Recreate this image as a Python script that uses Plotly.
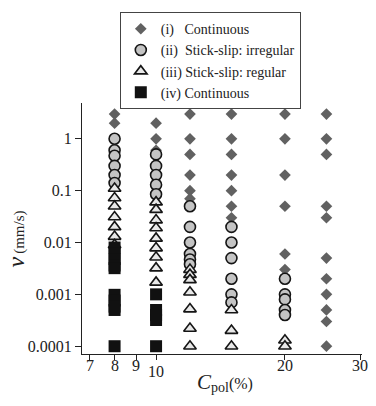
import math
import plotly.graph_objects as go

# ---- data ----
# (i) Continuous (gray diamonds)
cont_hi_c = [8, 8,
             10, 10, 10,
             12, 12, 12, 12, 12, 12,
             15, 15, 15, 15, 15, 15, 15,
             20, 20, 20, 20, 20, 20,
             25, 25, 25, 25, 25, 25, 25, 25, 25, 25, 25]
cont_hi_v = [3, 2,
             2, 1, 0.6,
             3, 1, 0.5, 0.2, 0.1, 0.07,
             3, 1, 0.5, 0.2, 0.1, 0.05, 0.03,
             3, 1, 0.2, 0.05, 0.006, 0.003,
             3, 1, 0.5, 0.05, 0.03, 0.005, 0.002, 0.001, 0.0005, 0.0003, 0.0001]

# (ii) Stick-slip: irregular (gray circles)
irr_c = [8, 8, 8, 8, 8, 8,
         10, 10, 10, 10, 10,
         12, 12, 12, 12, 12, 12,
         15, 15, 15, 15, 15, 15,
         20, 20, 20, 20, 20]
irr_v = [1, 0.6, 0.47, 0.3, 0.2, 0.14,
         0.5, 0.3, 0.2, 0.13, 0.085,
         0.05, 0.02, 0.01, 0.006, 0.0047, 0.0038,
         0.02, 0.01, 0.005, 0.002, 0.001, 0.0007,
         0.002, 0.001, 0.0008, 0.0005, 0.0004]

# (iii) Stick-slip: regular (open triangles)
reg_c = [8, 8, 8, 8, 8, 8, 8,
         10, 10, 10, 10, 10, 10, 10, 10, 10,
         12, 12, 12, 12, 12, 12, 12,
         15, 15, 15,
         20, 20]
reg_v = [0.11, 0.072, 0.05, 0.031, 0.02, 0.013, 0.009,
         0.06, 0.043, 0.027, 0.019, 0.012, 0.0078, 0.0052, 0.0032, 0.0017,
         0.003, 0.0024, 0.0019, 0.0011, 0.00052, 0.00022, 0.0001,
         0.0005, 0.0002, 0.0001,
         0.00013, 0.0001]

# (iv) Continuous (black squares)
cont_lo_c = [8, 8, 8, 8, 8, 8, 8, 8, 8, 8,
             10, 10, 10, 10, 10]
cont_lo_v = [0.008, 0.0061, 0.0048, 0.0036, 0.0032, 0.00098, 0.00076, 0.00058, 0.0005, 0.0001,
             0.001, 0.0005, 0.0004, 0.00032, 0.0001]

series_names = ["(i)\u00a0\u00a0 Continuous",
                "(ii)\u00a0 Stick-slip: irregular",
                "(iii) Stick-slip: regular",
                "(iv) Continuous"]

y_tickvals = [1, 0.1, 0.01, 0.001, 0.0001]
y_ticktext = ["1", "0.1", "0.01", "0.001", "0.0001"]
x_tickvals = [7, 8, 9, 10, 20, 30]
x_ticktext = ["7", "8", "9", "10", "20", "30"]
x_label_drop = [0, 0, 0, 1, 0, 0]

SERIF = "Liberation Serif, Times New Roman, serif"
INK = "#222222"

fig = go.Figure()
fig.add_trace(go.Scatter(x=cont_hi_c, y=cont_hi_v, mode="markers", name=series_names[0],
                         marker=dict(symbol="diamond", size=9, color="#616161",
                                     line=dict(width=0))))
fig.add_trace(go.Scatter(x=irr_c, y=irr_v, mode="markers", name=series_names[1],
                         marker=dict(symbol="circle", size=11, color="#c4c4c4",
                                     line=dict(width=1.6, color="#151515"))))
fig.add_trace(go.Scatter(x=reg_c, y=reg_v, mode="markers", name=series_names[2],
                         marker=dict(symbol="triangle-up", size=11, color="#e8e8e8",
                                     line=dict(width=1.6, color="#151515"))))
fig.add_trace(go.Scatter(x=cont_lo_c, y=cont_lo_v, mode="markers", name=series_names[3],
                         marker=dict(symbol="square", size=12, color="#111111",
                                     line=dict(width=0))))

annotations = []
for v, t, d in zip(x_tickvals, x_ticktext, x_label_drop):
    # annotation x on a log axis is given in log10 units
    annotations.append(dict(x=math.log10(v), xref="x", y=-0.047 - 0.024 * d, yref="paper",
                            text=t, showarrow=False, xanchor="center", yanchor="middle",
                            font=dict(family=SERIF, size=16, color=INK)))
annotations.append(dict(x=0.51, xref="paper", y=-0.112, yref="paper",
                        text="<i><span style='font-size:21px'>C</span></i>"
                             "<sub><span style='font-size:14px'>pol</span></sub>(%)",
                        showarrow=False, xanchor="center", yanchor="middle",
                        font=dict(family=SERIF, size=16, color=INK)))
annotations.append(dict(x=-0.235, xref="paper", y=0.457, yref="paper",
                        text="<i><span style='font-size:24px'>v</span></i>\u2009(mm/s)",
                        textangle=-90, showarrow=False, xanchor="center", yanchor="middle",
                        font=dict(family=SERIF, size=15, color=INK)))

fig.update_layout(
    width=376, height=406,
    margin=dict(l=82, r=14, t=100, b=52),
    paper_bgcolor="white", plot_bgcolor="white",
    font=dict(family=SERIF, size=16, color=INK),
    showlegend=True,
    legend=dict(x=0.135, y=1.362, xanchor="left", yanchor="top",
                bgcolor="white", bordercolor="#444444", borderwidth=1,
                font=dict(family=SERIF, size=14, color=INK),
                tracegroupgap=0, itemwidth=30),
    annotations=annotations,
)
fig.update_xaxes(type="log", range=[0.827, 1.481], showgrid=False, zeroline=False,
                 showline=True, linecolor=INK, linewidth=1,
                 tickmode="array", tickvals=x_tickvals, showticklabels=False,
                 ticks="outside", ticklen=5, tickcolor=INK, tickwidth=1)
fig.update_yaxes(type="log", range=[-4.15, 0.69], showgrid=False, zeroline=False,
                 showline=True, linecolor=INK, linewidth=1,
                 tickmode="array", tickvals=y_tickvals, ticktext=y_ticktext,
                 ticks="outside", ticklen=6, tickcolor=INK, tickwidth=1,
                 tickfont=dict(family=SERIF, size=16, color=INK))

fig.write_html("out.html")
